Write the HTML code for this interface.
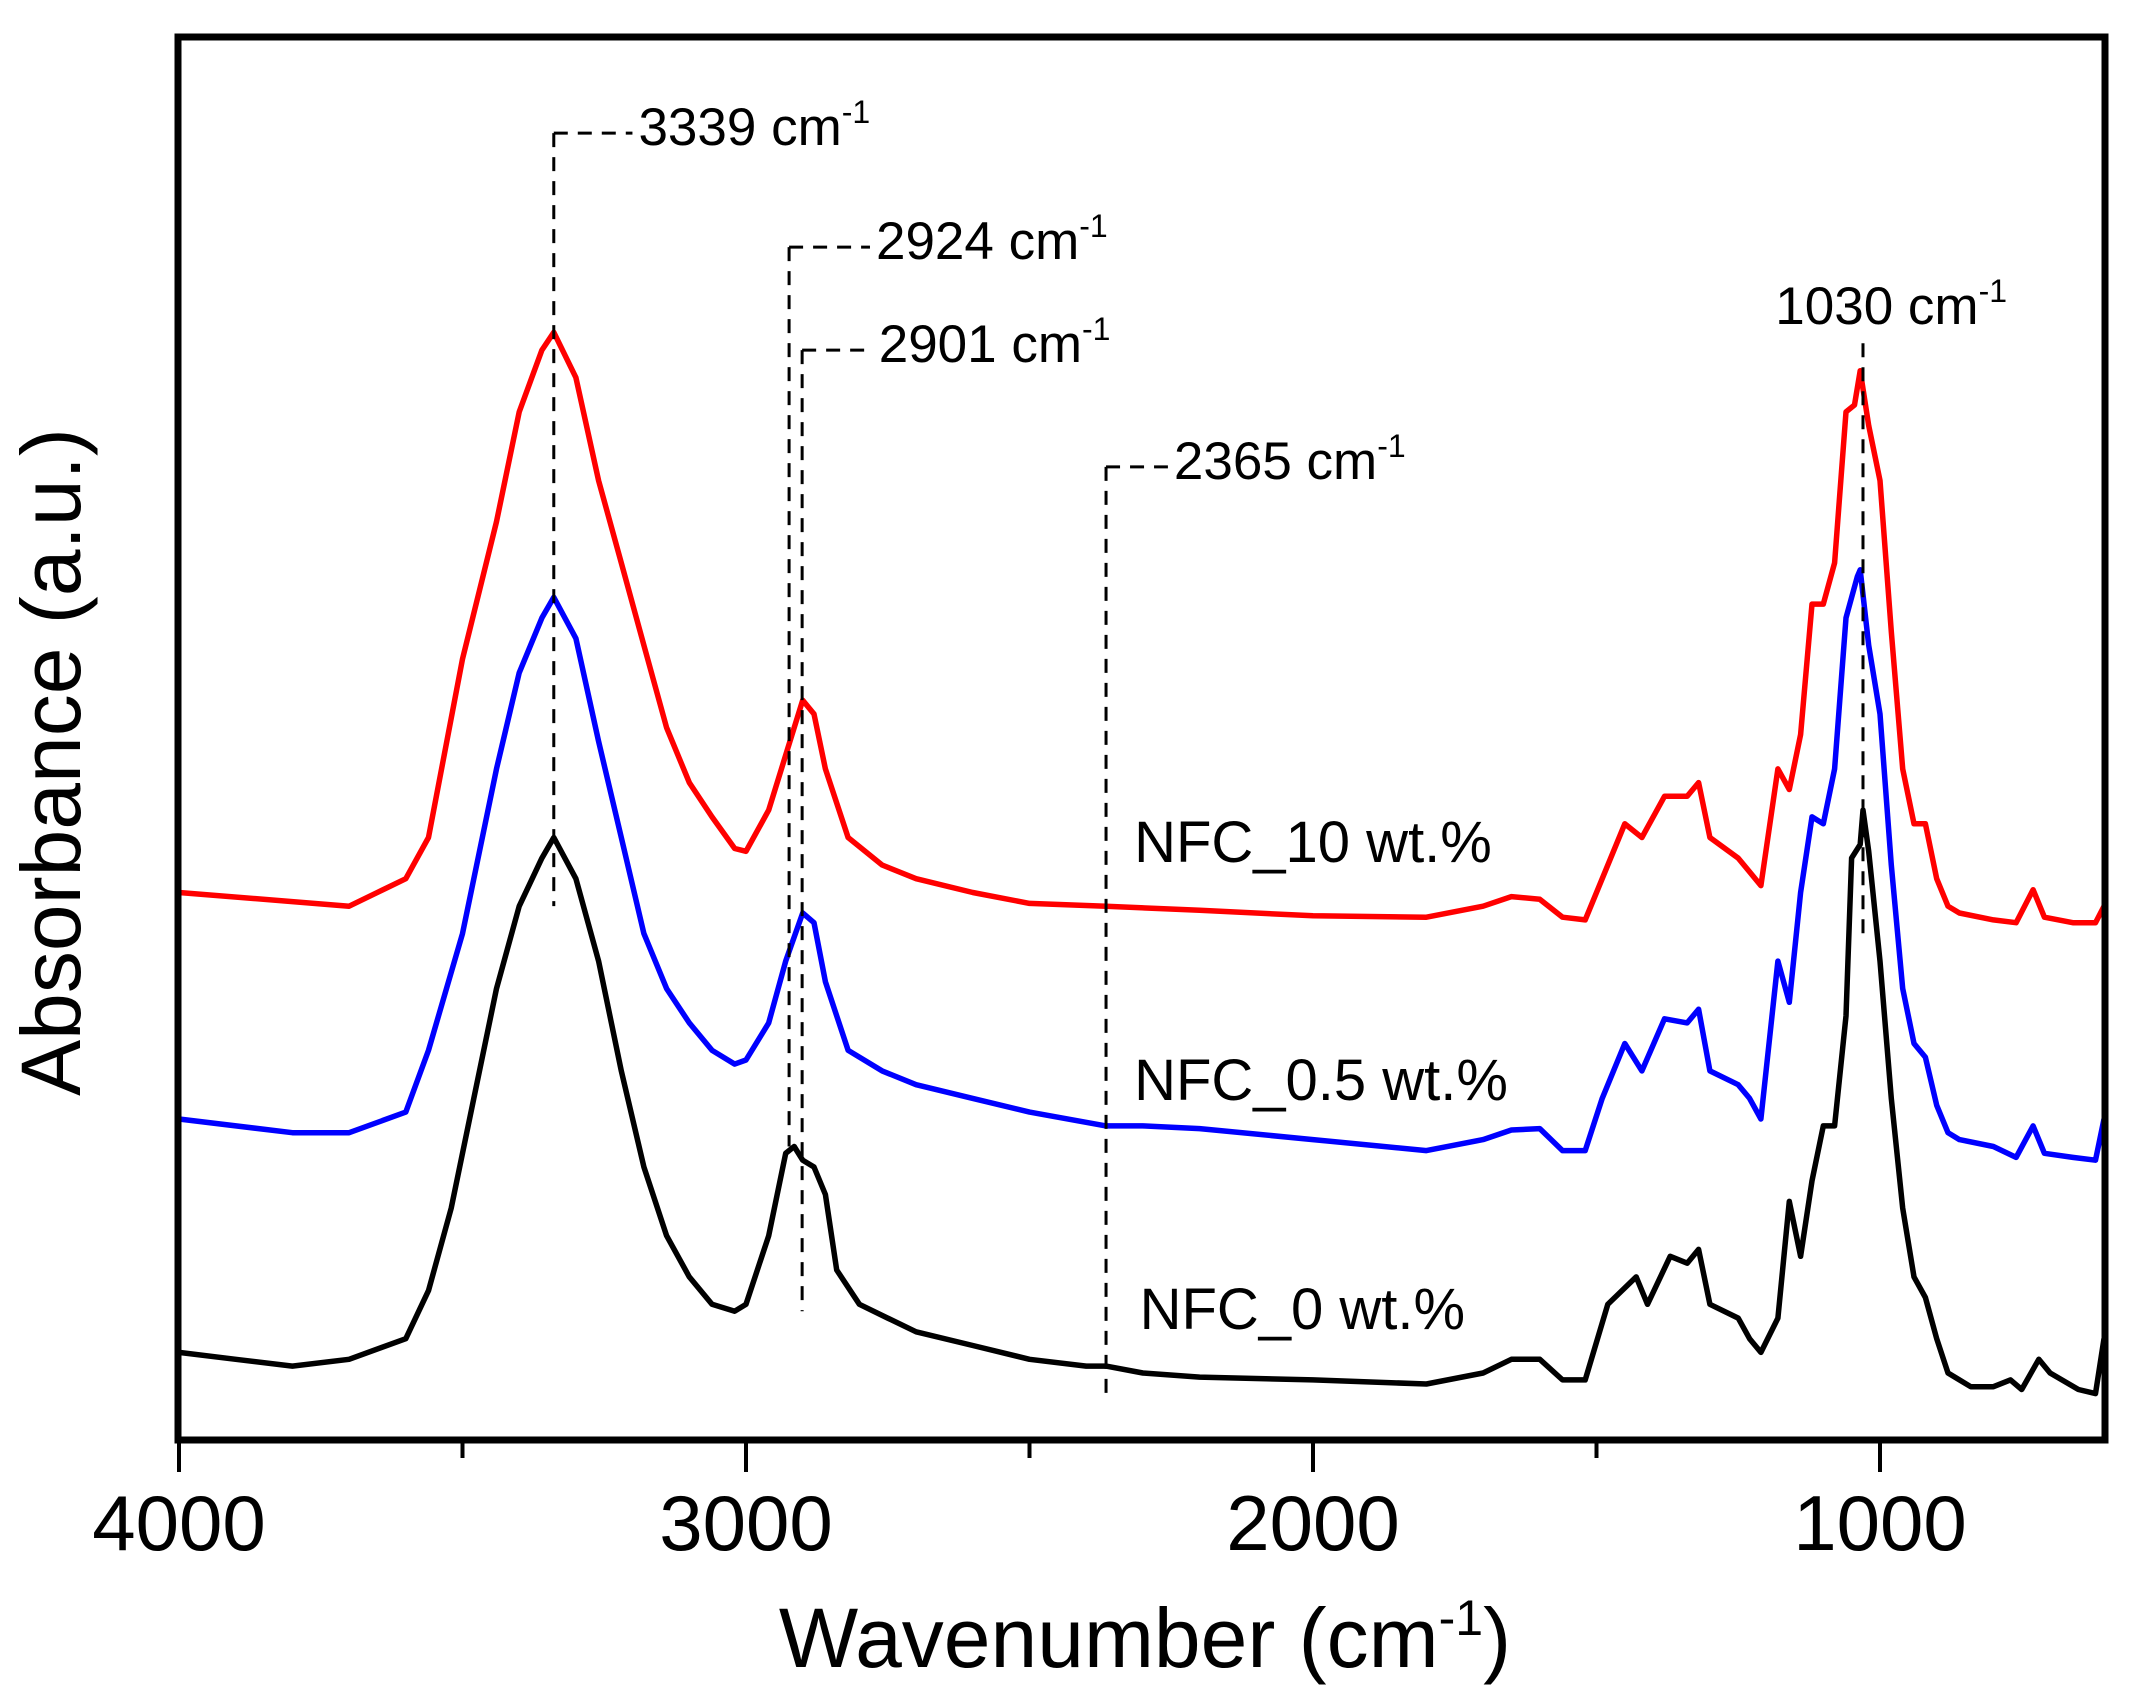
<!DOCTYPE html>
<html><head><meta charset="utf-8"><style>
html,body{margin:0;padding:0;background:#fff;}
svg{display:block;font-family:"Liberation Sans",Arial,sans-serif;}
</style></head><body>
<svg id="chart" width="2131" height="1699" viewBox="0 0 2131 1699" xmlns="http://www.w3.org/2000/svg">
<g id="plot"></g>
<rect x="178" y="37" width="1927" height="1403" fill="none" stroke="#000" stroke-width="7"/>
<g id="xaxis"></g>
<text x="1145" y="1667" font-size="84" text-anchor="middle">Wavenumber (cm<tspan dy="-32" font-size="50">-1</tspan><tspan dy="32">)</tspan></text>
<text transform="translate(80,762) rotate(-90)" font-size="84" text-anchor="middle">Absorbance (a.u.)</text>
<g id="ann"></g>
</svg>
<script>
const xTicks=[4000,3000,2000,1000];
const xMinor=[3500,2500,1500];
const wnBlack=[4000,3900,3800,3700,3600,3560,3520,3480,3440,3400,3360,3339,3300,3260,3220,3180,3140,3100,3060,3020,3000,2960,2930,2915,2900,2880,2860,2840,2800,2750,2700,2600,2500,2400,2365,2300,2200,2000,1800,1700,1650,1600,1560,1520,1480,1430,1410,1370,1340,1320,1300,1250,1230,1210,1180,1160,1140,1120,1100,1080,1060,1050,1035,1030,1020,1000,980,960,940,920,900,880,860,840,800,770,750,720,700,650,620,605];
const yBlack=[985,990,995,990,975,940,880,800,720,660,625,610,640,700,780,850,900,930,950,955,950,900,840,835,845,850,870,925,950,960,970,980,990,995,995,1000,1003,1005,1008,1000,990,990,1005,1005,950,930,950,915,920,910,950,960,975,985,960,875,915,860,820,820,740,625,615,590,620,700,800,880,930,945,975,1000,1005,1010,1010,1005,1012,990,1000,1012,1015,975];
const wnRed=[4000,3700,3600,3560,3500,3440,3400,3360,3339,3300,3260,3220,3180,3140,3100,3060,3020,3000,2960,2930,2900,2880,2860,2820,2760,2700,2600,2500,2365,2200,2000,1800,1700,1650,1600,1560,1520,1490,1450,1420,1380,1340,1320,1300,1250,1230,1210,1180,1160,1140,1120,1100,1080,1060,1045,1035,1020,1000,980,960,940,920,900,880,860,800,760,730,710,660,620,605];
const yRed=[650,660,640,610,480,380,300,255,242,275,350,410,470,530,570,595,618,620,590,550,510,520,560,610,630,640,650,658,660,663,667,668,660,653,655,668,670,640,600,610,580,580,570,610,625,635,645,560,575,535,440,440,410,300,295,270,310,350,460,560,600,600,640,660,665,670,672,648,668,672,672,660];
const wnBlue=[4000,3800,3700,3600,3560,3500,3440,3400,3360,3339,3300,3260,3220,3180,3140,3100,3060,3020,3000,2960,2930,2900,2880,2860,2820,2760,2700,2600,2500,2365,2300,2200,2000,1800,1700,1650,1600,1560,1520,1490,1450,1420,1380,1340,1320,1300,1250,1230,1210,1180,1160,1140,1120,1100,1080,1060,1040,1035,1020,1000,980,960,940,920,900,880,860,800,760,730,710,660,620,605];
const yBlue=[815,825,825,810,765,680,560,490,450,435,465,540,610,680,720,745,765,775,772,745,700,665,672,715,765,780,790,800,810,820,820,822,830,838,830,823,822,838,838,800,760,780,742,745,735,780,790,800,815,700,730,650,595,600,560,450,420,415,470,520,630,720,760,770,805,825,830,835,843,820,840,843,845,815];
const S=1.373;
function X(w){return 179+(4000-w)*0.567;}
function Y(v){return v*S;}
const NS="http://www.w3.org/2000/svg";
const plot=document.getElementById('plot');
function series(wn,ys,color,name){
  let d=wn.map((w,i)=>(i?'L':'M')+X(w).toFixed(1)+','+Y(ys[i]).toFixed(1)).join(' ');
  const p=document.createElementNS(NS,'path');
  p.setAttribute('d',d);p.setAttribute('fill','none');p.setAttribute('stroke',color);p.setAttribute('stroke-width','5.5');p.setAttribute('stroke-linejoin','round');
  
  
  plot.appendChild(p);
}
series(wnBlack,yBlack,'#000','series-nfc-0');
series(wnBlue,yBlue,'#0000ff','series-nfc-0-5');
series(wnRed,yRed,'#ff0000','series-nfc-10');
const xa=document.getElementById('xaxis');
function line(g,x1,y1,x2,y2,w,dash){const l=document.createElementNS(NS,'line');l.setAttribute('x1',x1);l.setAttribute('y1',y1);l.setAttribute('x2',x2);l.setAttribute('y2',y2);l.setAttribute('stroke','#000');l.setAttribute('stroke-width',w);if(dash)l.setAttribute('stroke-dasharray',dash);g.appendChild(l);return l;}
xTicks.forEach(t=>{const l=line(xa,X(t),1440,X(t),1472,4);


const tx=document.createElementNS(NS,'text');tx.setAttribute('x',X(t));tx.setAttribute('y',1550);tx.setAttribute('font-size','78');tx.setAttribute('text-anchor','middle');tx.textContent=t;


xa.appendChild(tx);});
xMinor.forEach(t=>{const l=line(xa,X(t),1440,X(t),1458,4);

});
const ann=document.getElementById('ann');
const D='14,10';
const peaks=[3339,2924,2901,2365];
const peakTop=[97,180,255,340];
const peakBot=[660,835,955,1020];
const peakTextX=[465,638,640,855];
peaks.forEach((p,i)=>{
  const l=line(ann,X(p),Y(peakTop[i]),X(p),Y(peakBot[i]),3,D);
  
  
  line(ann,X(p),Y(peakTop[i]),peakTextX[i]*S-6,Y(peakTop[i]),3,D);
  const t=document.createElementNS(NS,'text');t.setAttribute('x',peakTextX[i]*S);t.setAttribute('y',Y(peakTop[i])+12);t.setAttribute('font-size','53');
  t.innerHTML=p+' cm<tspan dy="-22" font-size="32">-1</tspan>';
  
  
  ann.appendChild(t);
});
const l1030=line(ann,X(1030),Y(250),X(1030),Y(680),3,D);


const t1030=document.createElementNS(NS,'text');t1030.setAttribute('x',1293*S);t1030.setAttribute('y',236*S);t1030.setAttribute('font-size','53');
t1030.innerHTML='1030 cm<tspan dy="-22" font-size="32">-1</tspan>';


ann.appendChild(t1030);
const labs=['NFC_10 wt.%','NFC_0.5 wt.%','NFC_0 wt.%'];
const labX=[826,826,830];const labY=[628,801,968];
labs.forEach((s,i)=>{const t=document.createElementNS(NS,'text');t.setAttribute('x',labX[i]*S);t.setAttribute('y',labY[i]*S);t.setAttribute('font-size','58');t.textContent=s;


ann.appendChild(t);});
</script>
</body></html>
